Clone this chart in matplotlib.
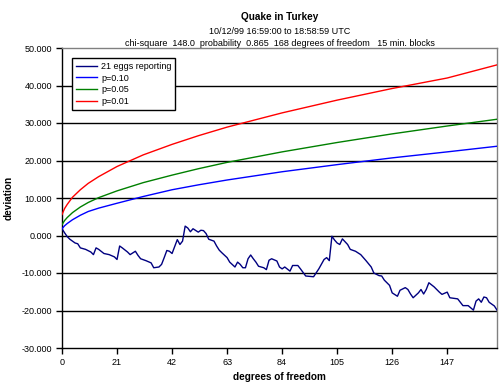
import matplotlib
matplotlib.use("Agg")
import matplotlib.pyplot as plt

plt.rcParams["font.family"] = ["Liberation Sans", "DejaVu Sans"]

# random walk of the eggs (degrees of freedom, deviation)
walk_x = [0, 1, 2, 3, 5, 6, 7, 9, 11, 12, 13, 14, 16, 18, 20, 21, 22, 23, 25, 26,
          28, 29, 30, 32, 34, 35, 37, 38, 39, 40, 41, 42, 44, 45, 46, 47, 48, 49, 50, 52,
          53, 54, 55, 56, 58, 59, 60, 61, 63, 64, 66, 67, 68, 69, 70, 71, 72, 73, 74, 75,
          77, 78, 79, 80, 82, 83, 84, 85, 87, 88, 90, 91, 93, 96, 98, 100, 101, 102, 103, 104,
          105, 106, 107, 109, 110, 112, 114, 116, 118, 119, 121, 122, 123, 125, 126, 128, 129, 131, 132, 133,
          134, 136, 137, 138, 139, 140, 142, 144, 145, 147, 148, 151, 152, 153, 155, 157, 158, 159, 160, 161,
          162, 163, 165, 166]
walk_y = [1.8, 0.7, -0.3, -1.0, -2.0, -2.2, -3.3, -3.7, -4.4, -5.1, -3.3, -3.7, -4.8, -5.1, -5.7, -6.4, -2.8, -3.3, -4.4, -5.1,
          -4.2, -5.3, -6.2, -6.7, -7.3, -8.6, -8.4, -7.7, -5.9, -4.0, -4.2, -4.8, -1.1, -2.4, -1.5, 2.5, 2.0, 1.0, 1.8, 0.9,
          1.4, 1.3, 0.5, -1.0, -1.5, -2.8, -3.9, -4.6, -5.9, -7.1, -8.4, -7.1, -7.7, -8.6, -8.6, -6.2, -5.2, -6.2, -7.1, -8.2,
          -8.6, -9.1, -6.6, -6.2, -6.8, -8.4, -8.9, -8.4, -9.5, -8.0, -8.0, -8.9, -10.8, -11.0, -8.9, -6.4, -5.9, -6.7, -0.2, -1.2,
          -2.0, -2.4, -0.9, -2.4, -3.7, -4.2, -5.1, -6.7, -8.4, -10.0, -10.7, -10.8, -11.9, -13.3, -15.3, -16.2, -14.6, -13.9, -14.4, -15.6,
          -16.6, -15.3, -14.4, -15.6, -14.4, -12.6, -13.7, -15.1, -15.7, -15.1, -16.6, -16.9, -17.8, -18.7, -18.7, -19.9, -17.5, -16.9, -17.8, -16.4,
          -16.6, -17.8, -18.8, -19.9]

# probability envelopes
env_x = [0, 1, 2, 4, 7, 10, 14, 21, 31, 42, 52, 63, 84, 105, 126, 147, 166]
p10 = [1.8, 2.6, 3.2, 4.2, 5.4, 6.4, 7.3, 8.6, 10.4, 12.2, 13.5, 14.8, 17.0, 18.9, 20.7, 22.3, 23.8]
p05 = [2.9, 4.0, 4.8, 6.1, 7.6, 8.8, 10.1, 11.9, 14.1, 16.1, 17.8, 19.5, 22.3, 24.8, 27.1, 29.2, 31.0]
p01 = [5.6, 7.2, 8.3, 10.2, 12.2, 13.9, 15.7, 18.4, 21.5, 24.3, 26.6, 28.9, 32.7, 36.1, 39.2, 42.0, 45.5]

x_ticks = [0, 21, 42, 63, 84, 105, 126, 147]
y_ticks = [-30, -20, -10, 0, 10, 20, 30, 40, 50]

fig = plt.figure(figsize=(5.02, 3.87), dpi=100)
ax = fig.add_axes([62 / 502, 1 - 348 / 387, 435 / 502, 300 / 387])

for v in y_ticks[1:-1]:
    ax.axhline(v, color="black", lw=1.0, zorder=1)

ax.plot(walk_x, walk_y, color="#000080", lw=1.0, label="21 eggs reporting", zorder=3)
ax.plot(env_x, p10, color="#0000FF", lw=1.0, label="p=0.10", zorder=3)
ax.plot(env_x, p05, color="#008000", lw=1.0, label="p=0.05", zorder=3)
ax.plot(env_x, p01, color="#FF0000", lw=1.0, label="p=0.01", zorder=3)

ax.set_xlim(0, 166)
ax.set_ylim(-30, 50)
ax.set_xticks(x_ticks)
ax.set_yticks(y_ticks)
ax.set_yticklabels([f"{v:.3f}" for v in y_ticks])
ax.tick_params(direction="out", length=4, width=1, labelsize=6.5, pad=3)

ax.spines["top"].set_color("#808080")
ax.spines["right"].set_color("#808080")
for s in ax.spines.values():
    s.set_linewidth(1.0)

ax.set_xlabel("degrees of freedom", fontsize=7.2, fontweight="bold", va="center")
ax.xaxis.set_label_coords(0.5, -0.097)
ax.set_ylabel("deviation", fontsize=7.2, fontweight="bold")
ax.yaxis.set_label_coords(-0.112, 0.5)

cx = 279.5 / 502
fig.text(cx, 1 - 17 / 387, "Quake in Turkey", ha="center", va="center", fontsize=7.2, fontweight="bold")
fig.text(cx, 1 - 31 / 387, "10/12/99 16:59:00 to 18:58:59 UTC", ha="center", va="center", fontsize=6.5)
fig.text(cx, 1 - 44 / 387, "chi-square  148.0  probability  0.865  168 degrees of freedom   15 min. blocks",
         ha="center", va="center", fontsize=6.5)

leg = ax.legend(loc="upper left", bbox_to_anchor=(0.024, 0.966), fontsize=6.5, frameon=True,
                fancybox=False, handlelength=2.3, handletextpad=0.5, borderpad=0.4,
                labelspacing=0.3, borderaxespad=0)
leg.get_frame().set_edgecolor("black")
leg.get_frame().set_linewidth(1.0)
leg.get_frame().set_alpha(1)

fig.savefig("out.png", dpi=100)
